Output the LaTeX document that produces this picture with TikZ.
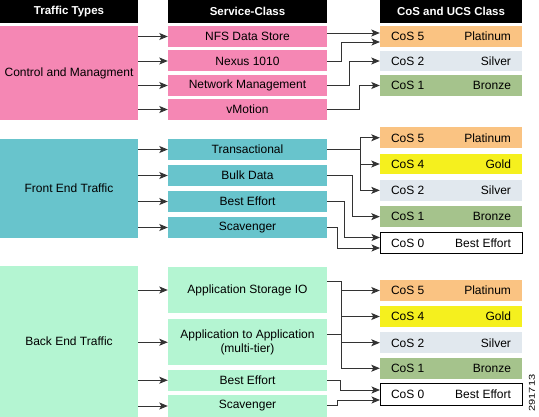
\documentclass[tikz,border=0pt]{standalone}
\usepackage{fontspec}
\setmainfont{Liberation Sans}
\usetikzlibrary{arrows.meta}
\definecolor{cpink}{HTML}{F587B4}
\definecolor{cteal}{HTML}{68C4CC}
\definecolor{cmint}{HTML}{B4F5D2}
\definecolor{cplat}{HTML}{FAC382}
\definecolor{cgold}{HTML}{F5F01E}
\definecolor{csilv}{HTML}{E1E8EE}
\definecolor{cbron}{HTML}{A5C38C}
\definecolor{cline}{HTML}{333333}
\newcommand\coslab[2]{\makebox[120pt][s]{#1\hfill #2}}
\begin{document}
\begin{tikzpicture}[x=1pt,y=-1pt,
  every node/.style={inner sep=0pt, font=\fontsize{12}{13.5}\selectfont},
  hdr/.style={fill=black, text=white, font=\fontsize{11.5}{13}\selectfont\bfseries, minimum height=23pt},
  colA/.style={minimum width=138pt},
  colB/.style={minimum width=159pt},
  colC/.style={minimum width=142pt},
  svc/.style={colB, minimum height=21pt},
  cosbox/.style={colC, minimum height=20.5pt},
  bebox/.style={colC, fill=white, draw=black, line width=0.8pt},
  conn/.style={draw=cline, line width=0.9pt, -{Stealth[length=8.5pt,width=7pt,inset=2pt]}},
  ]
\useasboundingbox (0,0) rectangle (539,417);
% headers
\node[hdr, colA] (h1) at (69,11.5) {Traffic Types};
\node[hdr, colB] (h2) at (247.5,11.5) {Service-Class};
\node[hdr, colC] (h3) at (451,11.5) {CoS and UCS Class};

% ---------- section 1
\node[colA, fill=cpink, minimum height=94pt] (ctrl) at (69,73) {Control and Managment};
\node[svc, fill=cpink] (nfs) at (247.5,36.5) {NFS Data Store};
\node[svc, fill=cpink] (nex) at (247.5,61) {Nexus 1010};
\node[svc, fill=cpink] (nm) at (247.5,85.5) {Network Management};
\node[svc, fill=cpink] (vm) at (247.5,109.5) {vMotion};
\node[cosbox, fill=cplat] (p1) at (451,36.5) {\coslab{CoS 5}{Platinum}};
\node[cosbox, fill=csilv] (s1) at (451,61) {\coslab{CoS 2}{Silver}};
\node[cosbox, fill=cbron] (b1) at (451,85.5) {\coslab{CoS 1}{Bronze}};

\foreach \t in {nfs,nex,nm,vm} \draw[conn] (ctrl.east |- \t) -- (\t.west);
\coordinate (nfsR) at (327,33);
\draw[conn] (nfsR) -- (p1.west |- nfsR);
\coordinate (p1in) at (380,42);
\draw[conn] (nex.east) -- (341,61) -- (341,42) -- (p1in);
\draw[conn] (nm.east) -- (349,85.5) -- (349,61) -- (s1.west);
\draw[conn] (vm.east) -- (359,109.5) -- (359,85.5) -- (b1.west);

% ---------- section 2
\node[colA, fill=cteal, minimum height=99pt] (front) at (69,188.5) {Front End Traffic};
\node[svc, fill=cteal] (tr) at (247.5,149.5) {Transactional};
\node[svc, fill=cteal] (bd) at (247.5,175.5) {Bulk Data};
\node[svc, fill=cteal] (be2) at (247.5,201.5) {Best Effort};
\node[svc, fill=cteal] (sc2) at (247.5,227.5) {Scavenger};
\node[cosbox, fill=cplat] (p2) at (451,137.75) {\coslab{CoS 5}{Platinum}};
\node[cosbox, fill=cgold] (g2) at (451,164) {\coslab{CoS 4}{Gold}};
\node[cosbox, fill=csilv] (s2) at (451,190.35) {\coslab{CoS 2}{Silver}};
\node[cosbox, fill=cbron] (b2) at (451,216.65) {\coslab{CoS 1}{Bronze}};
\node[cosbox, bebox] (z2) at (451,243) {\coslab{CoS 0}{Best Effort}};

\foreach \t in {tr,bd,be2,sc2} \draw[conn] (front.east |- \t) -- (\t.west);
\draw[draw=cline, line width=0.9pt] (tr.east) -- (360,149.5);
\draw[draw=cline, line width=0.9pt] (360,137.75) -- (360,190.35);
\draw[conn] (360,137.75) -- (p2.west);
\draw[conn] (360,164) -- (g2.west);
\draw[conn] (360,190.35) -- (s2.west);
\draw[conn] (bd.east) -- (352,175.5) -- (352,216.65) -- (b2.west);
\coordinate (z2a) at (380,237.5);
\coordinate (z2b) at (380,248);
\draw[conn] (be2.east) -- (344,201.5) -- (344,237.5) -- (z2a);
\draw[conn] (sc2.east) -- (337,227.5) -- (337,248) -- (z2b);

% ---------- section 3
\node[colA, fill=cmint, minimum height=151pt] (back) at (69,341.5) {Back End Traffic};
\node[svc, fill=cmint, minimum height=46pt] (asio) at (247.5,290) {Application Storage IO};
\node[svc, fill=cmint, minimum height=45.5pt, align=center] (a2a) at (247.5,342.25) {Application to Application\\(multi-tier)};
\node[svc, fill=cmint, minimum height=20.5pt] (be3) at (247.5,380.25) {Best Effort};
\node[svc, fill=cmint, minimum height=22pt] (sc3) at (247.5,406) {Scavenger};
\node[cosbox, fill=cplat] (p3) at (451,290.5) {\coslab{CoS 5}{Platinum}};
\node[cosbox, fill=cgold] (g3) at (451,316.5) {\coslab{CoS 4}{Gold}};
\node[cosbox, fill=csilv] (s3) at (451,342.75) {\coslab{CoS 2}{Silver}};
\node[cosbox, fill=cbron] (b3) at (451,368.25) {\coslab{CoS 1}{Bronze}};
\node[cosbox, bebox, minimum height=22pt] (z3) at (451,394) {\coslab{CoS 0}{Best Effort}};

\foreach \t in {asio,a2a,be3,sc3} \draw[conn] (back.east |- \t) -- (\t.west);
\coordinate (asioR) at (327,281);
\coordinate (a2aR) at (327,334);
\draw[draw=cline, line width=0.9pt] (asioR) -- (341,281) -- (341,368.25);
\draw[draw=cline, line width=0.9pt] (a2aR) -- (341,334);
\draw[conn] (341,290.5) -- (p3.west);
\draw[conn] (341,316.5) -- (g3.west);
\draw[conn] (341,342.75) -- (s3.west);
\draw[conn] (341,368.25) -- (b3.west);
\coordinate (z3a) at (380,390);
\coordinate (z3b) at (380,400);
\draw[conn] (be3.east) -- (340,380.25) -- (340,390) -- (z3a);
\coordinate (sc3R) at (327,405);
\draw[conn] (sc3R) -- (337,405) -- (337,400) -- (z3b);

\node[rotate=90, font=\fontsize{8.5}{9}\selectfont] (num) at (532,393) {\scalebox{1.3}[1]{291713}};
\end{tikzpicture}
\end{document}
